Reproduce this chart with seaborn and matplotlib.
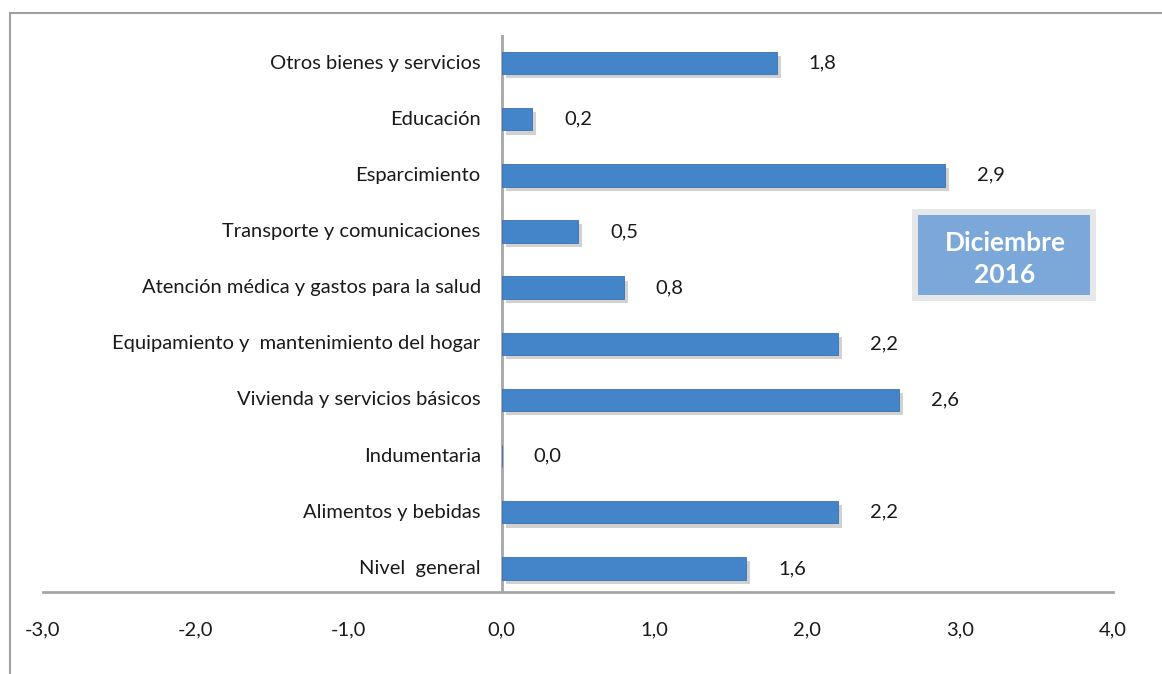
import matplotlib
matplotlib.use("Agg")
import matplotlib.pyplot as plt
import matplotlib.patheffects as pe
from matplotlib.patches import Rectangle
import seaborn as sns
import pandas as pd

categories = [
    "Otros bienes y servicios",
    "Educación",
    "Esparcimiento",
    "Transporte y comunicaciones",
    "Atención médica y gastos para la salud",
    "Equipamiento y  mantenimiento del hogar",
    "Vivienda y servicios básicos",
    "Indumentaria",
    "Alimentos y bebidas",
    "Nivel  general",
]
values = [1.8, 0.2, 2.9, 0.5, 0.8, 2.2, 2.6, 0.0, 2.2, 1.6]
value_labels = ["1,8", "0,2", "2,9", "0,5", "0,8", "2,2", "2,6", "0,0", "2,2", "1,6"]
xticks = [-3, -2, -1, 0, 1, 2, 3, 4]
xtick_labels = ["-3,0", "-2,0", "-1,0", "0,0", "1,0", "2,0", "3,0", "4,0"]
box_text = "Diciembre\n2016"

df = pd.DataFrame({"cat": categories, "val": values})

sns.set_style("white")
plt.rcParams["font.family"] = ["Lato", "DejaVu Sans"]

W, H = 1162, 674
fig = plt.figure(figsize=(W / 100, H / 100), dpi=100)
ax = fig.add_axes([43 / W, 1 - 592 / H, (1113 - 43) / W, (592 - 35) / H])

sns.barplot(data=df, x="val", y="cat", order=categories, orient="h",
            color="#4485ca", width=0.4, saturation=1, ax=ax, zorder=3)

for p in ax.patches:
    p.set_edgecolor("#3a72b2")
    p.set_linewidth(0.6)
    p.set_path_effects([pe.SimplePatchShadow(offset=(3, -3), shadow_rgbFace="#9a9a9a", alpha=0.45),
                        pe.Normal()])

ax.set_xlim(-3, 4)
ax.set_ylim(9.42, -0.5)
ax.set_xticks(xticks)
ax.set_xticklabels(xtick_labels, fontsize=14.5, color="#1a1a1a")
ax.tick_params(axis="x", length=0, pad=21)
ax.set_yticks([])
ax.set_xlabel("")
ax.set_ylabel("")
for s in ["left", "right", "top"]:
    ax.spines[s].set_visible(False)
ax.spines["bottom"].set_color("#a6a6a6")
ax.spines["bottom"].set_linewidth(2)
ax.axvline(0, color="#a6a6a6", lw=2, zorder=2)

for i, (cat, v, lab) in enumerate(zip(categories, values, value_labels)):
    ax.annotate(cat, xy=(0, i), xytext=(-15, 0), textcoords="offset points",
                ha="right", va="center", fontsize=14.5, color="#1a1a1a")
    ax.annotate(lab, xy=(v, i), xytext=(23, 0), textcoords="offset points",
                ha="left", va="center", fontsize=14.5, color="#1a1a1a")

# highlighted box
fig.patches.append(Rectangle((912 / W, 1 - 301 / H), 184 / W, 92 / H,
                             transform=fig.transFigure, facecolor="#e6e7e9",
                             edgecolor="none", zorder=5))
fig.patches.append(Rectangle((918 / W, 1 - 295 / H), 172 / W, 80 / H,
                             transform=fig.transFigure, facecolor="#7ba7d9",
                             edgecolor="none", zorder=6))
fig.text(1005 / W, 1 - 259 / H, box_text, ha="center", va="center",
         fontsize=19, fontweight="bold", color="white", linespacing=1.4, zorder=7)

# outer frame
fig.patches.append(Rectangle((10 / W, -0.1), 1.2, 1 - 13 / H + 0.1,
                             transform=fig.transFigure, facecolor="none",
                             edgecolor="#a0a0a0", linewidth=1.5, zorder=1))

fig.savefig("out.png", dpi=100)
